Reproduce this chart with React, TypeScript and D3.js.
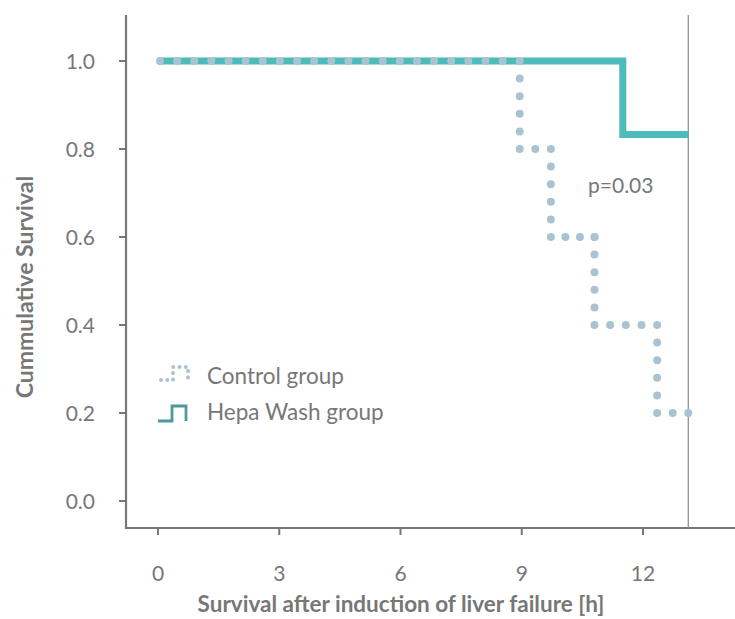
import React from "react";
import * as d3 from "d3";

const xTicks = [0, 3, 6, 9, 12];
const yTicks = [0, 0.2, 0.4, 0.6, 0.8, 1.0];
const controlTimes = [0, 8.95, 9.72, 10.8, 12.35, 13.12];
const controlSurv = [1.0, 0.8, 0.6, 0.4, 0.2, 0.2];
const hepaTimes = [0, 11.5, 13.12];
const hepaSurv = [1.0, 0.833, 0.833];
const censorTime = 13.12;

const W = 735, H = 619;
const x = d3.scaleLinear().domain([0, 12]).range([158, 643]);
const y = d3.scaleLinear().domain([0, 1]).range([501, 61]);

const line = d3.line<[number, number]>().x(d => x(d[0])).y(d => y(d[1])).curve(d3.curveStepAfter);

const grey = "#777";
const font = "Lato, 'Noto Sans', sans-serif";

function dottedSegments(times: number[], surv: number[]) {
  const segs: { x1: number; y1: number; x2: number; y2: number }[] = [];
  for (let i = 0; i < times.length - 1; i++) {
    const xa = x(times[i]) + (i === 0 ? 2 : 0), xb = x(times[i + 1]), ya = y(surv[i]), yb = y(surv[i + 1]);
    segs.push({ x1: xa, y1: ya, x2: xb, y2: ya });
    if (ya !== yb) segs.push({ x1: xb, y1: ya, x2: xb, y2: yb });
  }
  return segs;
}

export default function App() {
  const hepa = hepaTimes.map((t, i) => [t, hepaSurv[i]] as [number, number]);
  const segs = dottedSegments(controlTimes, controlSurv);
  return (
    <svg width={W} height={H} style={{ position: "absolute", left: 0, top: 0 }} fontFamily={font}>
      <line x1={126} x2={126} y1={15} y2={529} stroke={grey} strokeWidth={2.2} />
      <line x1={125} x2={W} y1={528} y2={528} stroke={grey} strokeWidth={2.2} />
      {yTicks.map(v => (
        <g key={v}>
          <line x1={119} x2={126} y1={y(v)} y2={y(v)} stroke={grey} strokeWidth={2} />
          <text x={95} y={y(v)} dy="0.36em" textAnchor="end" fontSize={21} fill={grey}>{v.toFixed(1)}</text>
        </g>
      ))}
      {xTicks.map(v => (
        <g key={v}>
          <line x1={x(v)} x2={x(v)} y1={528} y2={535} stroke={grey} strokeWidth={2} />
          <text x={x(v)} y={581} textAnchor="middle" fontSize={21} fill={grey}>{v}</text>
        </g>
      ))}
      <line x1={x(censorTime)} x2={x(censorTime)} y1={15} y2={528} stroke="#888" strokeWidth={1.2} />
      <text x={401} y={612} textAnchor="middle" fontSize={22.5} fontWeight="bold" fill={grey}>Survival after induction of liver failure [h]</text>
      <text transform="translate(33,287) rotate(-90)" textAnchor="middle" fontSize={23} fontWeight="bold" fill={grey}>Cummulative Survival</text>
      <path d={line(hepa) || ""} fill="none" stroke="#4dbbbb" strokeWidth={7} />
      {segs.map((s, i) => {
        const len = Math.hypot(s.x2 - s.x1, s.y2 - s.y1);
        const n = Math.max(1, Math.round(len / 16.8));
        return (
          <line key={i} x1={s.x1} y1={s.y1} x2={s.x2} y2={s.y2} stroke="#a9c3d3" strokeWidth={8}
            strokeLinecap="round" strokeDasharray={`0 ${len / n}`} />
        );
      })}
      <text x={588} y={193} fontSize={21} fill={grey}>p=0.03</text>
      <path d="M161,380 H173 V367 H188 V380" fill="none" stroke="#a9c3d3" strokeWidth={4} strokeLinecap="round" strokeDasharray="0 6.3" />
      <text x={207} y={384} fontSize={22.5} fill={grey}>Control group</text>
      <path d="M158,421 H172 V406 H186 V421" fill="none" stroke="#4d9a9a" strokeWidth={2.8} />
      <text x={207} y={420} fontSize={22.5} fill={grey}>Hepa Wash group</text>
    </svg>
  );
}
